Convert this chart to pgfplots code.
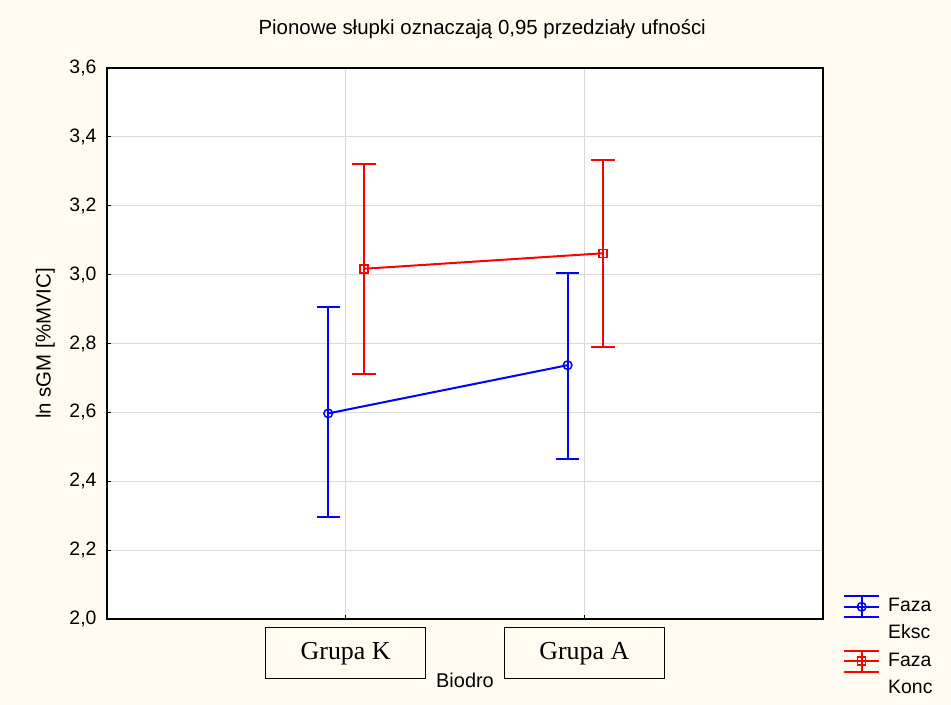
\documentclass[border=0pt]{standalone}
\usepackage{pgfplots}
\usepackage{pgfplotstable}
\pgfplotsset{compat=1.18}
\usepackage{fontspec}
\setmainfont{Liberation Sans}
\newfontfamily\timesfont{Liberation Serif}
\definecolor{bgc}{RGB}{255,251,240}
\definecolor{gridc}{RGB}{218,218,218}

\pgfplotstableread{
x     y     ep     em
0.927 2.597 0.310 0.302
1.930 2.737 0.269 0.273
}\eksc
\pgfplotstableread{
x     y     ep     em
1.077 3.017 0.305 0.305
2.079 3.062 0.270 0.271
}\konc

\pgfplotsset{ebarlegend/.style={legend image code/.code={
  \draw[##1, mark=none] (0bp,10.5bp) -- (35bp,10.5bp);
  \draw[##1, mark=none] (0bp,-10.5bp) -- (35bp,-10.5bp);
  \draw[##1, mark=none] (17.5bp,-10.5bp) -- (17.5bp,10.5bp);
  \draw[mark repeat=2, mark phase=2, ##1] plot coordinates {(0bp,0bp) (17.5bp,0bp) (35bp,0bp)};
}}}

\begin{document}
\begin{tikzpicture}[x=1bp,y=1bp]
\path[use as bounding box, fill=bgc] (-107,-86) rectangle (844,619);
\begin{axis}[
  at={(0,0)}, anchor=south west,
  scale only axis, width=716bp, height=551bp,
  xmin=0, xmax=3, ymin=2, ymax=3.6,
  axis background/.style={fill=white},
  xtick={1,2}, xticklabels={Grupa K, Grupa A},
  ytick={2,2.2,2.4,2.6,2.8,3.0,3.2,3.4,3.6},
  grid=major, major grid style={gridc, line width=1bp},
  tick align=inside, tick pos=left, major tick length=4bp,
  tick style={black, line width=1bp},
  axis line style={line width=2bp, black},
  /pgf/number format/.cd, fixed, fixed zerofill, precision=1, use comma, assume math mode=true,
  /pgfplots/.cd,
  yticklabel style={font=\fontsize{19.5}{23}\selectfont, xshift=-7bp},
  xticklabel style={font=\timesfont\fontsize{26}{30}\selectfont, draw=black, line width=1.5bp,
     minimum width=160bp, minimum height=51bp, anchor=north, yshift=-8bp, inner sep=0pt},
  title={Pionowe słupki oznaczają 0,95 przedziały ufności},
  title style={font=\fontsize{20.5}{24}\selectfont, at={(axis description cs:0.524,1.060)}, anchor=center, yshift=0pt},
  xlabel={Biodro},
  xlabel style={font=\fontsize{20}{24}\selectfont, at={(axis description cs:0.5,-0.1107)}, anchor=center},
  ylabel={ln sGM [\%MVIC]},
  ylabel style={font=\fontsize{20.5}{24}\selectfont, at={(axis description cs:-0.086,0.5)}, anchor=center, rotate=0},
  legend style={at={(rel axis cs:1,0)}, anchor=north west, xshift=17bp, yshift=28bp,
     draw=none, fill=none, font=\fontsize{19.5}{23}\selectfont,
     nodes={text height=13bp, text depth=3bp, inner ysep=5.6bp, inner xsep=8bp, anchor=west}},
  legend cell align=left,
]
\addplot[blue, line width=2bp, mark=o, mark size=4.3bp, mark options={line width=1.5bp, solid},
  ebarlegend,
  error bars/.cd, y dir=both, y explicit,
  error bar style={line width=2bp},
  error mark options={rotate=90, mark size=11.7bp, line width=2bp}]
  table[x=x, y=y, y error plus=ep, y error minus=em]{\eksc};
\addlegendentry{Faza}
\addlegendimage{empty legend}
\addlegendentry{Eksc}
\addplot[red, line width=2bp, mark=square, mark size=4bp, mark options={line width=1.5bp, solid},
  ebarlegend,
  error bars/.cd, y dir=both, y explicit,
  error bar style={line width=2bp},
  error mark options={rotate=90, mark size=11.7bp, line width=2bp}]
  table[x=x, y=y, y error plus=ep, y error minus=em]{\konc};
\addlegendentry{Faza}
\addlegendimage{empty legend}
\addlegendentry{Konc}
\end{axis}
\end{tikzpicture}
\end{document}
